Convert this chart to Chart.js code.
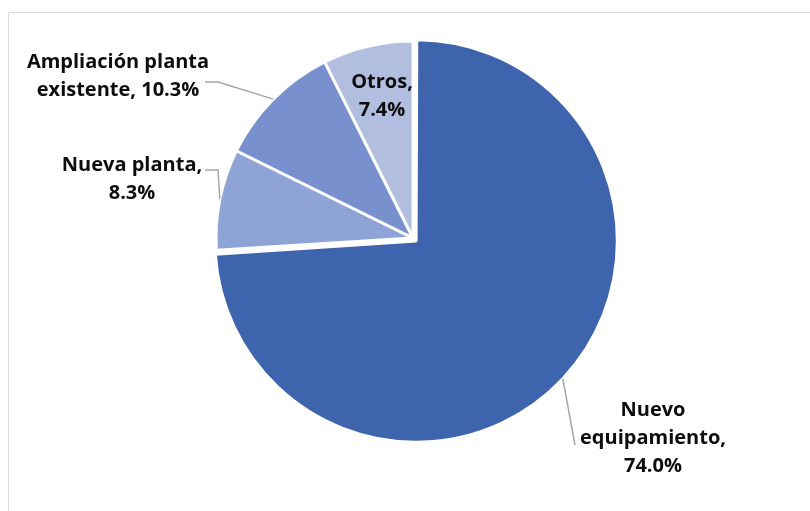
<!DOCTYPE html>
<html>
<head>
<meta charset="utf-8">
<script src="https://cdn.jsdelivr.net/npm/chart.js@4.4.1/dist/chart.umd.min.js"></script>
<style>
  html, body { margin: 0; padding: 0; background: #fff; }
  #wrap { width: 810px; height: 511px; }
</style>
</head>
<body>
<div id="wrap"><canvas id="pie-chart" width="810" height="511"></canvas></div>
<script>
const categories = ["Nuevo equipamiento", "Nueva planta", "Ampliación planta existente", "Otros"];
const shares = [74.0, 8.3, 10.3, 7.4];
const sliceColors = ["#3D64AD", "#8FA4D6", "#7990CE", "#B2BEE0"];

// label layout: text centre, first line middle, wrap width, leader bend points
const labelSpots = [
  { x: 653, y: 410, wrap: 165, leader: [[575, 445]] },
  { x: 132, y: 165, wrap: 165, leader: [[218, 170], [205, 170]] },
  { x: 118, y: 62, wrap: 205, leader: [[218, 82], [205, 82]] },
  { x: 382, y: 82, wrap: 75, leader: null },
];

const font = "bold 20px 'Open Sans', Lato, sans-serif";
const lineHeight = 28;

function wrapText(ctx, text, maxW) {
  const words = text.split(" ");
  const lines = [];
  let cur = "";
  words.forEach(function (w) {
    const test = cur ? cur + " " + w : w;
    if (cur && ctx.measureText(test).width > maxW) {
      lines.push(cur);
      cur = w;
    } else {
      cur = test;
    }
  });
  if (cur) lines.push(cur);
  return lines;
}

// same shift Chart.js applies to an offset arc
function arcShift(arc, off) {
  const fix = 1 - Math.sin(Math.min(Math.PI, arc.circumference || 0));
  return (off / 4) * (1 + fix);
}

const framePlugin = {
  id: "frame",
  beforeDraw(chart) {
    const ctx = chart.ctx;
    ctx.save();
    ctx.strokeStyle = "#D9D9D9";
    ctx.lineWidth = 1;
    ctx.beginPath();
    ctx.moveTo(8.5, 520);
    ctx.lineTo(8.5, 12.5);
    ctx.lineTo(820, 12.5);
    ctx.stroke();
    ctx.restore();
  },
};

const labelPlugin = {
  id: "pieLabels",
  afterDatasetsDraw(chart) {
    const ctx = chart.ctx;
    const meta = chart.getDatasetMeta(0);
    const offsets = chart.data.datasets[0].offset;
    ctx.save();
    ctx.font = font;
    ctx.textAlign = "center";
    ctx.textBaseline = "middle";
    meta.data.forEach(function (arc, i) {
      const p = arc.getProps(["x", "y", "startAngle", "endAngle", "outerRadius", "circumference"], true);
      const mid = (p.startAngle + p.endAngle) / 2;
      const shift = arcShift(p, offsets[i] || 0);
      const cx = p.x + Math.cos(mid) * shift;
      const cy = p.y + Math.sin(mid) * shift;
      const spot = labelSpots[i];

      if (spot.leader) {
        ctx.strokeStyle = "#A6A6A6";
        ctx.lineWidth = 1.5;
        ctx.beginPath();
        ctx.moveTo(cx + Math.cos(mid) * p.outerRadius, cy + Math.sin(mid) * p.outerRadius);
        spot.leader.forEach(function (pt) { ctx.lineTo(pt[0], pt[1]); });
        ctx.stroke();
      }

      const text = categories[i] + ", " + shares[i].toFixed(1) + "%";
      const lines = wrapText(ctx, text, spot.wrap);
      ctx.fillStyle = "#0D0D0D";
      lines.forEach(function (ln, k) {
        ctx.fillText(ln, spot.x, spot.y + k * lineHeight);
      });
    });
    ctx.restore();
  },
};

const data = {
  labels: categories,
  datasets: [
    {
      data: shares,
      backgroundColor: sliceColors,
      borderColor: "#FFFFFF",
      borderWidth: 3,
      offset: [17, 0, 0, 0],
      hoverOffset: 0,
    },
  ],
};

const config = {
  type: "pie",
  data: data,
  options: {
    responsive: false,
    animation: false,
    radius: 197,
    layout: {
      padding: { left: 16, right: 0, top: 0, bottom: 35 },
    },
    plugins: {
      legend: { display: false },
      tooltip: { enabled: false },
    },
  },
  plugins: [framePlugin, labelPlugin],
};

new Chart(document.getElementById("pie-chart"), config);
</script>
</body>
</html>
